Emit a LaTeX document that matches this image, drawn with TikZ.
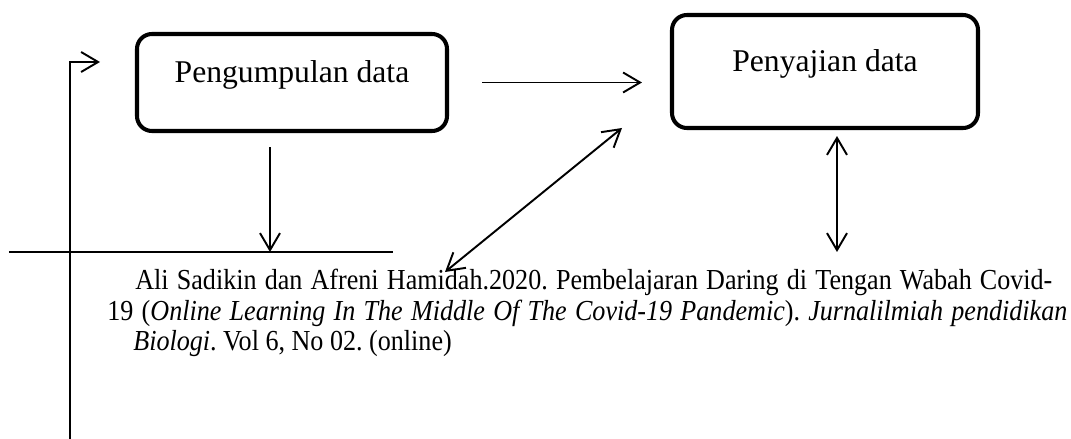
\documentclass[tikz,border=0pt]{standalone}
\usepackage{fontspec}
\setmainfont{Liberation Serif}
\newfontfamily\refserif[FakeStretch=0.9]{Liberation Serif}
\usetikzlibrary{arrows.meta,positioning}
\tikzset{%
  >={Straight Barb[length=3.4mm,width=4mm]},
  % Specifications for style of nodes:
      base/.style = {rectangle, rounded corners=0.3cm, draw=black, line width=2.3pt,
                     text centered, font=\fontsize{18}{20}\selectfont,
                     text height=0.9cm, text depth=0.9cm, inner sep=0pt},
   collect/.style = {base, minimum width=6.2cm, minimum height=1.94cm},
   present/.style = {base, minimum width=6.12cm, minimum height=2.26cm},
      link/.style = {line width=1.1pt},
    refline/.style = {anchor=base west, inner sep=0pt,
                      font=\refserif\fontsize{16.5}{18}\selectfont\frenchspacing},
}
\begin{document}
\begin{tikzpicture}
  \useasboundingbox (0,0) rectangle (21.42,-8.78);
  \node (collect) [collect] at (5.84,-1.65) {Pengumpulan data};
  \node (present) [present] at (16.5,-1.43) {Penyajian data};
  % free ends of the connectors
  \coordinate (lineL)   at (0.18,-5.04);
  \coordinate (lineR)   at (7.86,-5.04);
  \coordinate (lineM)   at (5.4,-5.04);
  \coordinate (fbBot)   at (1.4,-8.78);
  \coordinate (fbTip)   at (2.0,-1.24);
  \coordinate (diagLow) at (8.9,-5.44);
  \coordinate (diagUp)  at (12.44,-2.56);
  \coordinate (vertLow) at (16.74,-5.04);
  % reference text
  \node (refA) [refline] at (2.7,-5.78)  {\hbox to 18.34cm{Ali Sadikin dan Afreni Hamidah.2020. Pembelajaran Daring di Tengan Wabah Covid-}};
  \node (refB) [refline] at (2.14,-6.40) {\hbox to 19.2cm{19 (\textit{Online Learning In The Middle Of The Covid-19 Pandemic}). \textit{Jurnalilmiah pendidikan}}};
  \node (refC) [refline] at (2.66,-7.00) {\textit{Biologi}. Vol 6, No 02. (online)};

  \draw[line width=1.6pt] (lineL) -- (lineR);
  \draw[link,->] (fbBot) |- (fbTip);
  \draw[link,->,shorten <=0.66cm,shorten >=0.56cm] (collect.east) -- (collect.east -| present.west);
  \draw[link,->,shorten <=0.28cm] ([xshift=-0.44cm]collect.south) -- (lineM);
  \draw[link,<->] (diagLow) -- (diagUp);
  \draw[link,<->,shorten <=0.12cm] (present.south -| vertLow) -- (vertLow);
\end{tikzpicture}
\end{document}
